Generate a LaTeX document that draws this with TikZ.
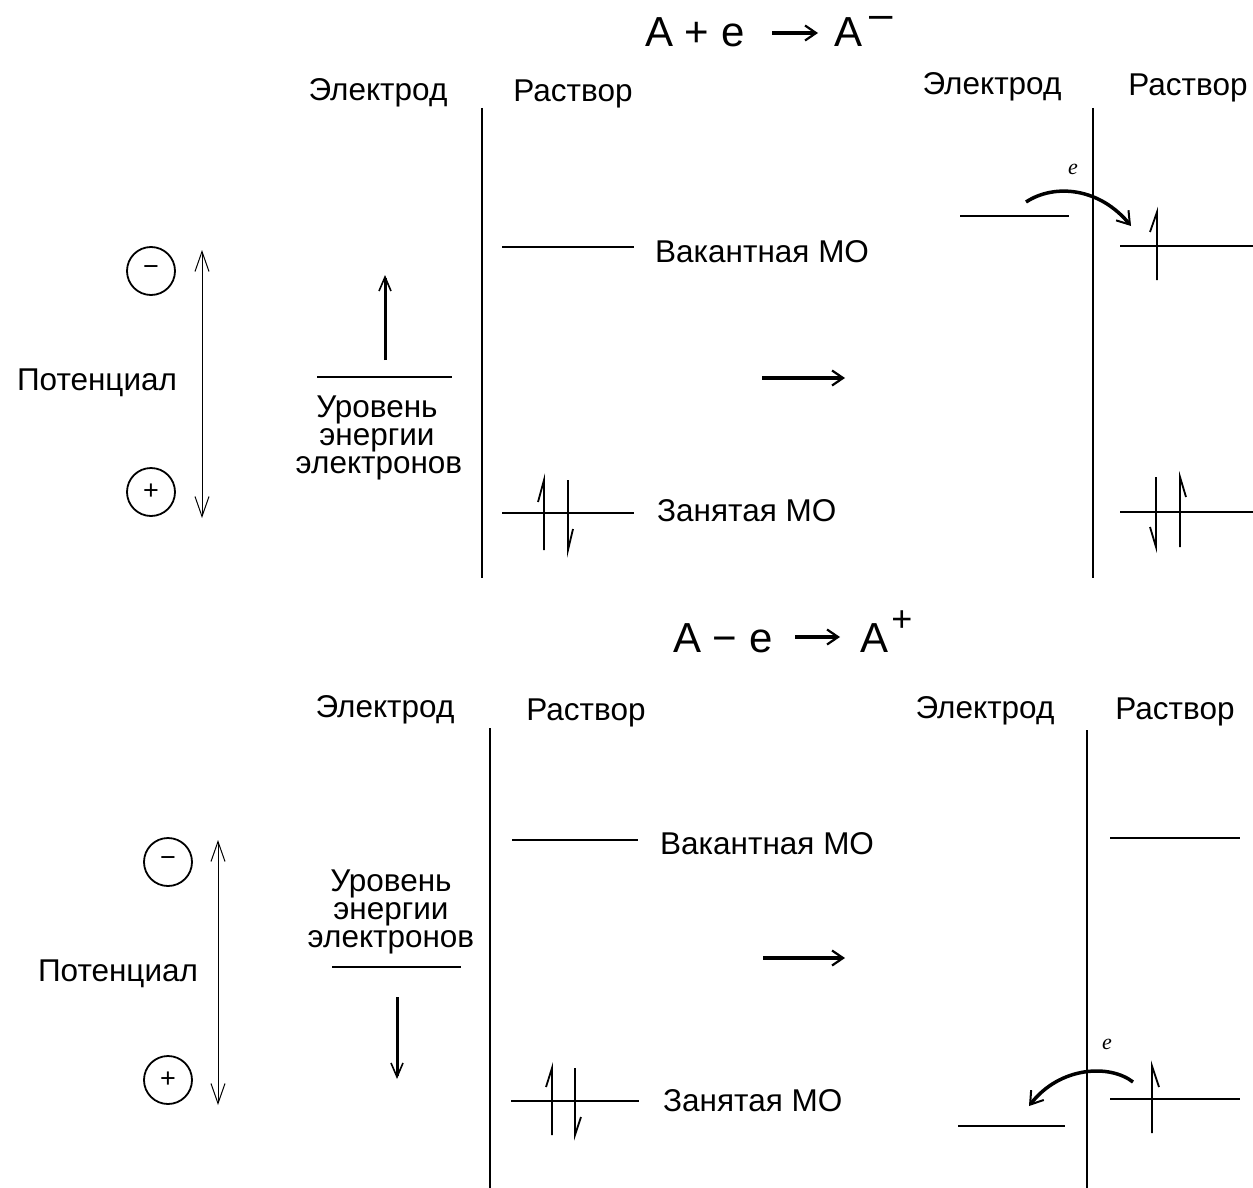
\documentclass[tikz,border=0pt]{standalone}
\usepackage{fontspec}
\setmainfont{Liberation Sans}
\newfontfamily\eserif{Liberation Serif}
\usetikzlibrary{arrows.meta}
\begin{document}
\begin{tikzpicture}[x=1pt,y=-1pt,
  lbl/.style={font=\fontsize{31.5}{31.5}\selectfont, inner sep=0pt, anchor=base},
  lblw/.style={lbl, anchor=base west},
  lvtxt/.style={lbl, text height=17pt, text depth=5pt},
  ttl/.style={font=\fontsize{42}{42}\selectfont, inner sep=0pt, anchor=base west},
  ev/.style={font=\eserif\itshape\fontsize{22}{22}\selectfont, inner sep=0pt},
  mo/.style={line width=2pt},
  wall/.style={line width=2.6pt},
  spin/.style={line width=1.8pt},
  pot/.style={line width=1pt, {Straight Barb[length=20pt,width=14pt]}-{Straight Barb[length=20pt,width=14pt]}},
  big/.style={line width=3.6pt, -{Straight Barb[length=11pt,width=15pt,line width=2.2pt]}},
  lvl/.style={line width=3pt, -{Straight Barb[length=14pt,width=12pt,line width=1.6pt]}},
  etr/.style={line width=3.5pt, -{Straight Barb[length=12pt,width=16pt,line width=2pt]}},
  sign/.style={circle, draw, line width=1.8pt, minimum size=48pt, inner sep=0pt, font=\fontsize{27}{27}\selectfont},
]
\useasboundingbox (0,0) rectangle (1253,1188);

% ================= TOP PANEL =================
\node[ttl] (t1a) at (645,47) {A + e};
\coordinate (t1s) at (772,33);
\coordinate (t1e) at (818,33);
\draw[big] (t1s) -- (t1e);
\node[ttl] (t1b) at (834,47) {A};
\node[ttl, text height=14pt, text depth=0pt] (t1c) at (869,29) {–};

\node[lbl] (el1) at (378,101) {Электрод};
\node[lbl] (ra1) at (573,102) {Раствор};
\node[lbl] (el2) at (992,95) {Электрод};
\node[lbl] (ra2) at (1188,96) {Раствор};

% left potential scale
\node[sign] (m1) at (151,271) {−};
\node[sign] (p1) at (151,492) {+};
\node[lbl] (pot1) at (97,390) {Потенциал};
\coordinate (pa1) at (202,250);
\coordinate (pb1) at (202,518);
\draw[pot] (pa1) -- (pb1);

% electron level
\draw[mo] (317,377) -- (452,377);
\coordinate (la1) at (385,360);
\coordinate (lb1) at (385,275);
\draw[lvl] (la1) -- (lb1);
\node[lvtxt] (u1a) at (377,417) {Уровень};
\node[lvtxt] (u1b) at (377,445) {энергии};
\node[lvtxt] (u1c) at (379,473) {электронов};

% wall
\draw[wall] (482,108) -- (482,578);
% vacant MO
\draw[mo] (502,247) -- (634,247);
\node[lblw] (v1) at (655,262) {Вакантная МО};
% occupied MO
\draw[mo] (502,513) -- (634,513);
\draw[spin] (544,550) -- (544,480) -- (538,502);
\draw[spin] (568,480) -- (568,550) -- (573,529);
\node[lblw] (o1) at (657,521) {Занятая МО};

% middle arrow
\coordinate (ma1) at (762,378);
\coordinate (mb1) at (845,378);
\draw[big] (ma1) -- (mb1);

% right state
\draw[wall] (1093,108) -- (1093,578);
\draw[mo] (960,216) -- (1069,216);
\coordinate (ea1) at (1026,202);
\coordinate (eb1) at (1131,226);
\draw[etr] (ea1) .. controls (1055,183) and (1100,188) .. (eb1);
\node[ev] (e1) at (1073,169) {e};
\draw[mo] (1120,246) -- (1253,246);
\draw[spin] (1157,280) -- (1157,212) -- (1150,232);
\draw[mo] (1120,512) -- (1253,512);
\draw[spin] (1156,477) -- (1156,547) -- (1150,527);
\draw[spin] (1180,547) -- (1180,477) -- (1186,497);

% ================= BOTTOM PANEL =================
\node[ttl] (t2a) at (673,652) {A − e};
\coordinate (t2s) at (795,637);
\coordinate (t2e) at (840,637);
\draw[big] (t2s) -- (t2e);
\node[ttl] (t2b) at (860,652) {A};
\node[ttl, font=\fontsize{36}{36}\selectfont, anchor=center] (t2c) at (902,621) {+};

\node[lbl] (el3) at (385,717) {Электрод};
\node[lbl] (ra3) at (586,720) {Раствор};
\node[lbl] (el4) at (985,718) {Электрод};
\node[lbl] (ra4) at (1175,719) {Раствор};

\node[sign] (m2) at (168,862) {−};
\node[sign] (p2) at (168,1080) {+};
\node[lbl] (pot2) at (118,981) {Потенциал};
\coordinate (pa2) at (218,840);
\coordinate (pb2) at (218,1105);
\draw[pot] (pa2) -- (pb2);

\node[lvtxt] (u2a) at (391,891) {Уровень};
\node[lvtxt] (u2b) at (391,919) {энергии};
\node[lvtxt] (u2c) at (391,947) {электронов};
\draw[mo] (332,967) -- (461,967);
\coordinate (la2) at (397,997);
\coordinate (lb2) at (397,1079);
\draw[lvl] (la2) -- (lb2);

\draw[wall] (490,728) -- (490,1188);
\draw[mo] (512,840) -- (638,840);
\node[lblw] (v2) at (660,854) {Вакантная МО};
\draw[mo] (511,1101) -- (639,1101);
\draw[spin] (552,1135) -- (552,1068) -- (546,1087);
\draw[spin] (575,1068) -- (575,1135) -- (581,1117);
\node[lblw] (o2) at (663,1111) {Занятая МО};

\coordinate (ma2) at (763,958);
\coordinate (mb2) at (845,958);
\draw[big] (ma2) -- (mb2);

\draw[wall] (1087,730) -- (1087,1188);
\draw[mo] (1110,838) -- (1240,838);
\draw[mo] (1110,1099) -- (1240,1099);
\draw[spin] (1152,1133) -- (1152,1066) -- (1159,1087);
\draw[mo] (958,1126) -- (1065,1126);
\coordinate (ea2) at (1133,1082);
\coordinate (eb2) at (1029,1106);
\draw[etr] (ea2) .. controls (1110,1064) and (1060,1066) .. (eb2);
\node[ev] (e2) at (1107,1044) {e};
\end{tikzpicture}
\end{document}
